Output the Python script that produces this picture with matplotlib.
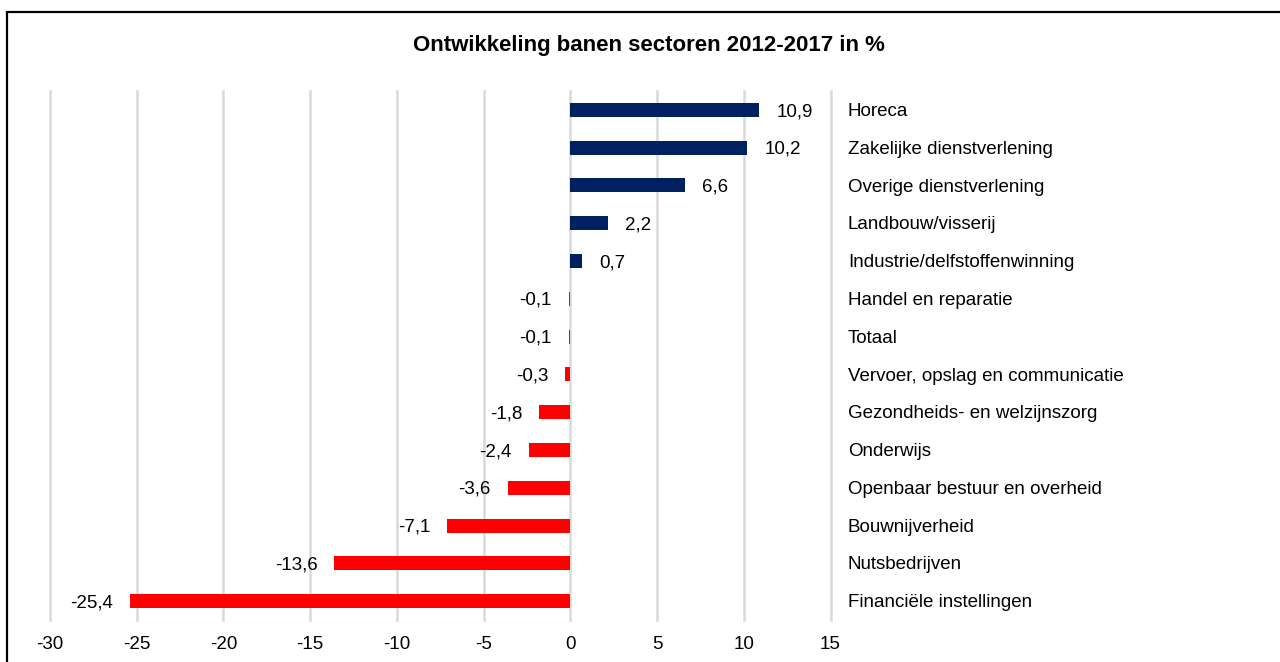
import matplotlib
matplotlib.use("Agg")
import matplotlib.pyplot as plt
from matplotlib.patches import Rectangle

# data, top to bottom as in the chart
sectors = [
    "Horeca",
    "Zakelijke dienstverlening",
    "Overige dienstverlening",
    "Landbouw/visserij",
    "Industrie/delfstoffenwinning",
    "Handel en reparatie",
    "Totaal",
    "Vervoer, opslag en communicatie",
    "Gezondheids- en welzijnszorg",
    "Onderwijs",
    "Openbaar bestuur en overheid",
    "Bouwnijverheid",
    "Nutsbedrijven",
    "Financiële instellingen",
]
change = [10.9, 10.2, 6.6, 2.2, 0.7, -0.1, -0.1, -0.3, -1.8, -2.4, -3.6, -7.1, -13.6, -25.4]
xticks = [-30, -25, -20, -15, -10, -5, 0, 5, 10, 15]

NAVY = "#002060"
RED = "#FF0000"
GRID = "#D9D9D9"
FONT = ["Liberation Sans", "DejaVu Sans"]
FS = 13.5

plt.rcParams["font.family"] = FONT

W, H = 1280, 662
fig = plt.figure(figsize=(W / 100, H / 100), dpi=100)

# outer frame (right and bottom edges fall outside the image)
fig.add_artist(Rectangle((7 / W, -0.05), 1.1, 1 - 12 / H + 0.05,
                         transform=fig.transFigure, fill=False,
                         edgecolor="black", linewidth=1.6))

ax = fig.add_axes([50 / W, 1 - 620 / H, 780.5 / W, 529 / H])

n = len(sectors)
ypos = [n - 1 - i for i in range(n)]
colors = [NAVY if v > 0 else RED for v in change]
ax.barh(ypos, change, height=0.37, color=colors, zorder=3)

for y, v in zip(ypos, change):
    label = f"{v:.1f}".replace(".", ",")
    if v > 0:
        ax.annotate(label, (v, y), xytext=(12.2, -1.2), textcoords="offset points",
                    ha="left", va="center", fontsize=FS)
    else:
        ax.annotate(label, (v, y), xytext=(-12.2, -1.2), textcoords="offset points",
                    ha="right", va="center", fontsize=FS)

for y, name in zip(ypos, sectors):
    ax.annotate(name, (16, y), xytext=(0, -1.2), textcoords="offset points",
                ha="left", va="center", fontsize=FS, annotation_clip=False)

ax.set_xlim(-30, 15)
ax.set_ylim(-0.5, n - 0.5)
ax.set_xticks(xticks)
ax.set_xticklabels([str(t) for t in xticks])
ax.set_yticks([])
ax.tick_params(axis="x", length=0, pad=11.5, labelsize=FS)
for s in ax.spines.values():
    s.set_visible(False)
for t in xticks:
    ax.axvline(t, color=GRID, linewidth=1.8, zorder=1, clip_on=False)

fig.text(649 / W, 1 - 46 / H, "Ontwikkeling banen sectoren 2012-2017 in %",
         ha="center", va="center", fontsize=16, fontweight="bold")

fig.savefig("out.png", dpi=100)
